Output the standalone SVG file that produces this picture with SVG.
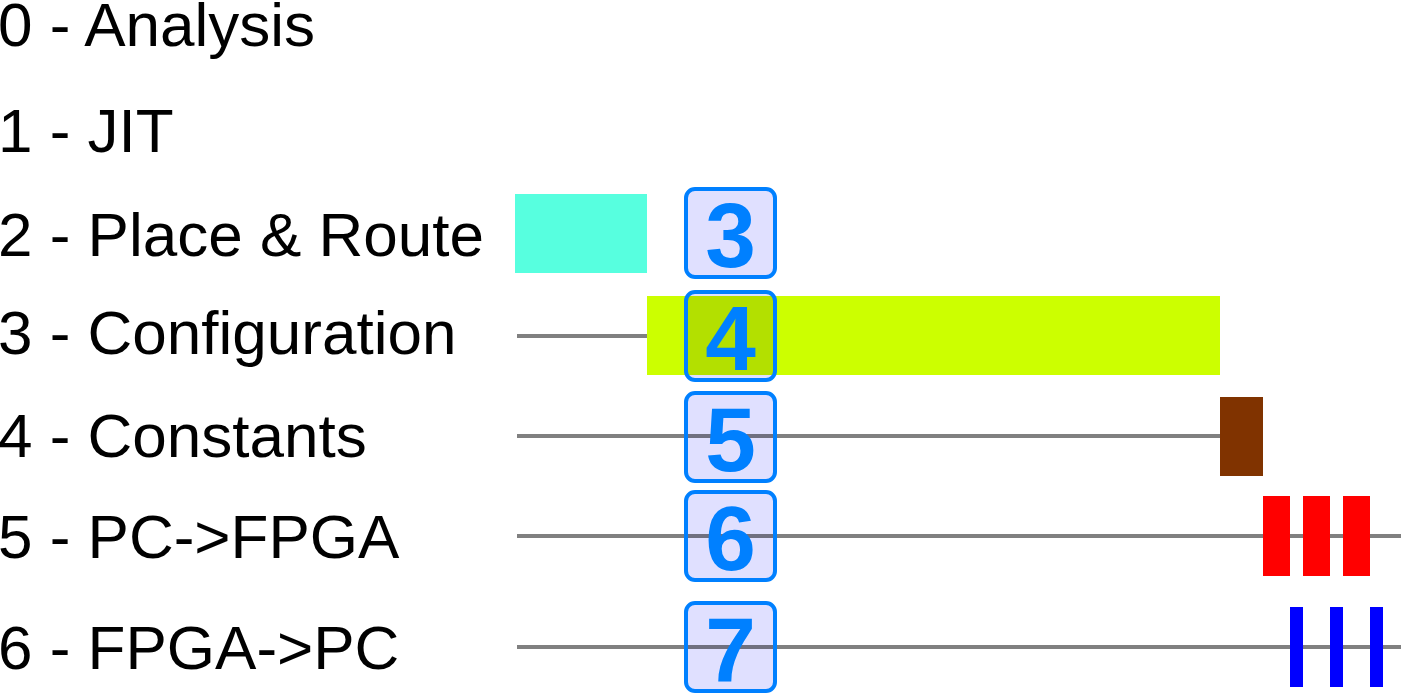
<svg xmlns="http://www.w3.org/2000/svg" width="1401" height="694" viewBox="0 0 1401 694">
<style>
.lbl{font-family:"Liberation Sans",Arial,sans-serif;font-size:62px;fill:#000}
.ln{stroke:#808080;stroke-width:4;fill:none}
.bfill{fill:#e0e0ff;mix-blend-mode:multiply}
.bstroke{fill:none;stroke:#0080ff;stroke-width:4}
.num{font-family:"Liberation Sans",Arial,sans-serif;font-weight:bold;font-size:91px;fill:#0080ff;text-anchor:middle}
</style>
<rect width="1401" height="694" fill="#fff"/>
<g id="labels">
<text class="lbl" x="-2" y="46">0 - Analysis</text>
<text class="lbl" x="-2" y="152">1 - JIT</text>
<text class="lbl" x="-2" y="256">2 - Place &amp; Route</text>
<text class="lbl" x="-2" y="354">3 - Configuration</text>
<text class="lbl" x="-2" y="457">4 - Constants</text>
<text class="lbl" x="-2" y="558">5 - PC-&gt;FPGA</text>
<text class="lbl" x="-2" y="669">6 - FPGA-&gt;PC</text>
</g>
<g id="connectors">
<line class="ln" x1="517" y1="336" x2="647" y2="336"/>
<line class="ln" x1="517" y1="436" x2="1220" y2="436"/>
<line class="ln" x1="517" y1="536" x2="1401" y2="536"/>
<line class="ln" x1="517" y1="647" x2="1401" y2="647"/>
</g>
<g id="bars">
<rect x="515" y="194" width="132" height="79" fill="#57ffdf"/>
<rect x="647" y="296" width="573" height="79" fill="#ccff00"/>
<rect x="1220" y="397" width="43" height="79" fill="#803300"/>
<rect x="1263" y="496" width="27" height="80" fill="#ff0000"/>
<rect x="1303" y="496" width="27" height="80" fill="#ff0000"/>
<rect x="1343" y="496" width="27" height="80" fill="#ff0000"/>
<rect x="1290" y="607" width="13" height="80" fill="#0000ff"/>
<rect x="1330" y="607" width="13" height="80" fill="#0000ff"/>
<rect x="1370" y="607" width="13" height="80" fill="#0000ff"/>
</g>
<g id="badge3"><rect class="bfill" x="686" y="189" width="89" height="88" rx="9"/><rect class="bstroke" x="686" y="189" width="89" height="88" rx="9"/><text class="num" x="730.5" y="267">3</text></g>
<g id="badge4"><rect class="bfill" x="686" y="292" width="89" height="88" rx="9"/><rect class="bstroke" x="686" y="292" width="89" height="88" rx="9"/><text class="num" x="730.5" y="370">4</text></g>
<g id="badge5"><rect class="bfill" x="686" y="393" width="89" height="88" rx="9"/><rect class="bstroke" x="686" y="393" width="89" height="88" rx="9"/><text class="num" x="730.5" y="471">5</text></g>
<g id="badge6"><rect class="bfill" x="686" y="492" width="89" height="88" rx="9"/><rect class="bstroke" x="686" y="492" width="89" height="88" rx="9"/><text class="num" x="730.5" y="570">6</text></g>
<g id="badge7"><rect class="bfill" x="686" y="603" width="89" height="88" rx="9"/><rect class="bstroke" x="686" y="603" width="89" height="88" rx="9"/><text class="num" x="730.5" y="681">7</text></g>
</svg>
